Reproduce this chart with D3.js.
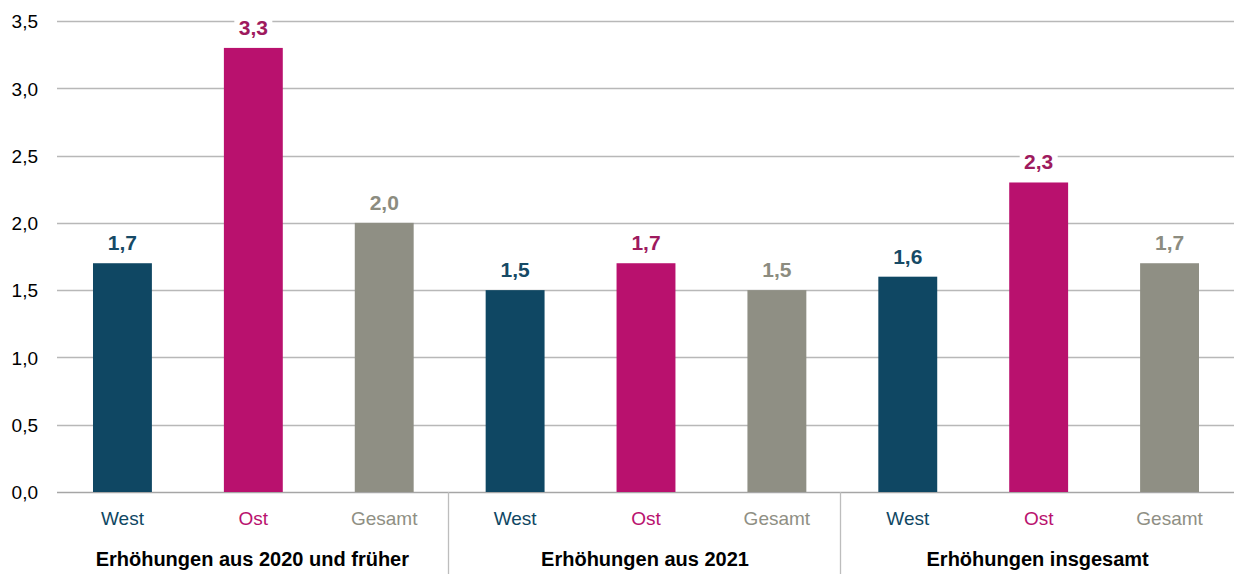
<!DOCTYPE html>
<html><head><meta charset="utf-8">
<script src="https://cdn.jsdelivr.net/npm/d3@7"></script>
<style>
html,body{margin:0;padding:0;background:#fff;}
svg{display:block;}
</style></head>
<body>
<svg id="chart" width="1234" height="574"></svg>
<script>
const groups = ["Erhöhungen aus 2020 und früher", "Erhöhungen aus 2021", "Erhöhungen insgesamt"];
const regions = ["West", "Ost", "Gesamt"];
const westValues = [1.7, 1.5, 1.6];
const ostValues = [3.3, 1.7, 2.3];
const gesamtValues = [2.0, 1.5, 1.7];
const yTicks = [0, 0.5, 1.0, 1.5, 2.0, 2.5, 3.0, 3.5];

const barColors = {West: "#0f4763", Ost: "#b9116e", Gesamt: "#8f8f84"};
const labelColors = {West: "#164a66", Ost: "#9e1a5e", Gesamt: "#8c8c80"};

const seriesByRegion = {West: westValues, Ost: ostValues, Gesamt: gesamtValues};
const rows = [];
groups.forEach((g, gi) => regions.forEach(r => rows.push({group: g, gi, region: r, key: gi + "|" + r, value: seriesByRegion[r][gi]})));

const svg = d3.select("#chart");
const mLeft = 57, mRight = 1235, mTop = 21, mBottom = 492;

const y = d3.scaleLinear().domain([0, 3.5]).range([mBottom, mTop]);
const x = d3.scaleBand().domain(rows.map(d => d.key)).range([mLeft, mRight]).paddingInner(0.55).paddingOuter(0.275);
const xg = d3.scaleBand().domain(groups).range([mLeft, mRight]);

const fmt = v => d3.format(".1f")(v).replace(".", ",");

// gridlines
svg.append("g").selectAll("line").data(yTicks).join("line")
  .attr("x1", mLeft).attr("x2", mRight)
  .attr("y1", d => Math.round(y(d)) + 0.5).attr("y2", d => Math.round(y(d)) + 0.5)
  .attr("stroke", d => d === 0 ? "#a6a6a6" : "#b8b8b8").attr("stroke-width", 1.3);

// y axis labels
const yAxis = d3.axisLeft(y).tickValues(yTicks).tickFormat(fmt).tickSize(0).tickPadding(0);
const ya = svg.append("g").attr("transform", `translate(38,0)`).call(yAxis);
ya.select(".domain").remove();
ya.selectAll("text").attr("font-family", "Liberation Sans, Arial, sans-serif").attr("font-size", 19).attr("fill", "#000").attr("dy", "0.36em");

// bars
svg.append("g").selectAll("rect").data(rows).join("rect")
  .attr("x", d => x(d.key)).attr("width", x.bandwidth())
  .attr("y", d => y(d.value)).attr("height", d => y(0) - y(d.value))
  .attr("fill", d => barColors[d.region]);

// value labels with white background
const vl = svg.append("g").selectAll("g").data(rows).join("g")
  .attr("transform", d => `translate(${x(d.key) + x.bandwidth()/2},${y(d.value) - 13})`);
vl.append("rect").attr("x", -19).attr("y", -20).attr("width", 38).attr("height", 24).attr("fill", "#fff");
vl.append("text").attr("text-anchor", "middle")
  .attr("font-family", "Liberation Sans, Arial, sans-serif")
  .attr("font-weight", "bold").attr("font-size", 21)
  .attr("fill", d => labelColors[d.region]).text(d => fmt(d.value));

// category labels
const xAxis = d3.axisBottom(x).tickFormat(k => k.split("|")[1]).tickSize(0).tickPadding(0);
const xa = svg.append("g").attr("transform", `translate(0,${mBottom})`).call(xAxis);
xa.select(".domain").remove();
xa.selectAll("text").attr("y", 33).attr("dy", 0)
  .attr("font-family", "Liberation Sans, Arial, sans-serif").attr("font-size", 19)
  .attr("fill", k => barColors[k.split("|")[1]]);

// group dividers
svg.append("g").selectAll("line").data(groups.slice(1)).join("line")
  .attr("x1", d => Math.round(xg(d)) - 1.5).attr("x2", d => Math.round(xg(d)) - 1.5)
  .attr("y1", mBottom).attr("y2", 574)
  .attr("stroke", "#bdbdbd").attr("stroke-width", 1.3);

// group labels
svg.append("g").selectAll("text").data(groups).join("text")
  .attr("x", d => xg(d) + xg.bandwidth()/2 - 1).attr("y", 566)
  .attr("text-anchor", "middle")
  .attr("font-family", "Liberation Sans, Arial, sans-serif")
  .attr("font-weight", "bold").attr("font-size", 20).attr("fill", "#000")
  .text(d => d);
</script>
</body></html>
